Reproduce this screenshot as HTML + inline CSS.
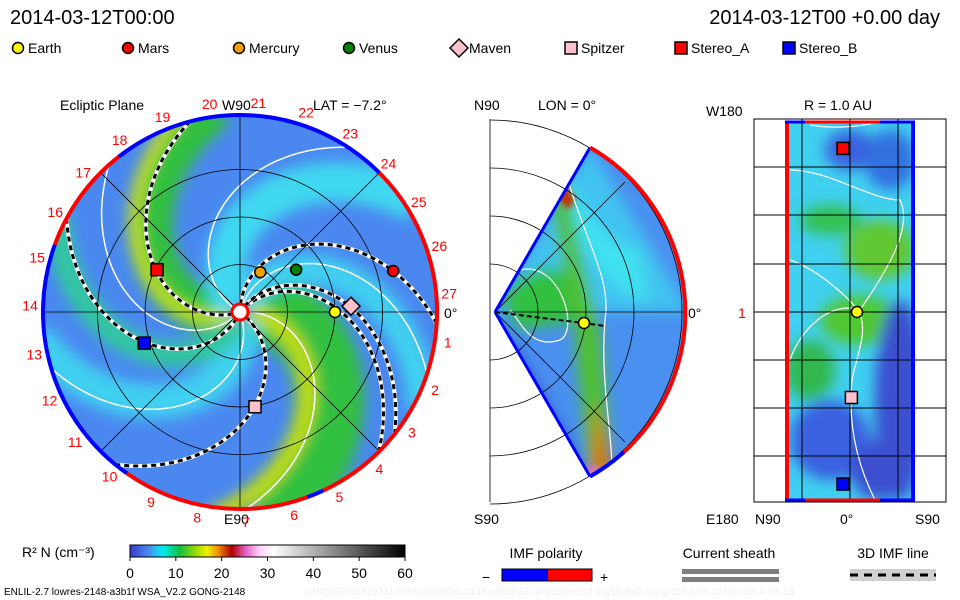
<!DOCTYPE html>
<html><head><meta charset="utf-8">
<style>
body{margin:0;background:#fff;}
svg{display:block;font-family:"Liberation Sans",sans-serif;}
</style></head>
<body>
<svg id="s" width="960" height="600" viewBox="0 0 960 600" xmlns="http://www.w3.org/2000/svg">
<defs>
<filter id="blur6"><feGaussianBlur stdDeviation="7"/></filter>
<filter id="blur3"><feGaussianBlur stdDeviation="3"/></filter>
<clipPath id="eclClip"><circle cx="240" cy="312" r="197"/></clipPath>
<clipPath id="wedgeClip"><path d="M495,312 L590,147.5 A190,190 0 0 1 590,476.5 Z"/></clipPath>
<clipPath id="rectClip"><rect x="785" y="121" width="130" height="380"/></clipPath>
<linearGradient id="cbar" x1="0" x2="1" y1="0" y2="0">
<stop offset="0" stop-color="#3a3ad0"/><stop offset="0.07" stop-color="#4a8cf0"/><stop offset="0.12" stop-color="#00f0f0"/>
<stop offset="0.18" stop-color="#10c040"/><stop offset="0.25" stop-color="#b0e000"/><stop offset="0.28" stop-color="#f0f000"/>
<stop offset="0.32" stop-color="#f09000"/><stop offset="0.37" stop-color="#b00000"/><stop offset="0.42" stop-color="#e060c0"/>
<stop offset="0.47" stop-color="#ffd0ff"/><stop offset="0.52" stop-color="#ffffff"/><stop offset="1" stop-color="#000"/>
</linearGradient>
</defs>

<text x="10" y="24" font-size="20">2014-03-12T00:00</text>
<text x="940" y="24" font-size="20" text-anchor="end">2014-03-12T00 +0.00 day</text>

<g id="legend" font-size="14"></g>

<g>
<text x="60" y="110" font-size="14">Ecliptic Plane</text>
<text x="222" y="110" font-size="14">W90</text>
<text x="313" y="110" font-size="14">LAT = −7.2°</text>
<text x="224" y="524" font-size="14">E90</text>
<text x="444" y="318" font-size="14">0°</text>
<g clip-path="url(#eclClip)">
<circle cx="240" cy="312" r="197" fill="#4a88f0"/>
<g id="bands" filter="url(#blur6)"></g>
<g id="spirals"></g>
</g>
<g id="eclGrid" stroke="#000" stroke-width="0.8" fill="none"></g>
<g id="eclRim"></g>
<g id="eclNums" fill="#f00" font-size="14"></g>
<circle cx="240" cy="312" r="8" fill="#fff" stroke="#f00" stroke-width="3"/>
<g id="eclBodies"></g>
</g>

<g>
<text x="474" y="110" font-size="14">N90</text>
<text x="538" y="110" font-size="14">LON = 0°</text>
<text x="474" y="524" font-size="14">S90</text>
<text x="688" y="318" font-size="14">0°</text>
<g clip-path="url(#wedgeClip)">
<rect x="490" y="120" width="200" height="390" fill="#4a90f0"/>
<g filter="url(#blur6)">
<path d="M495,312 L590,147 L690,312 Z" fill="#40d0f0" opacity="0.8"/>
<path d="M560,160 C580,200 600,240 640,250 L650,300 C600,300 575,230 545,170 Z" fill="#40e0f0"/>
<path d="M500,300 C540,250 580,260 585,320 L520,330 Z" fill="#30c040"/>
<path d="M560,160 C570,190 580,260 600,330 C605,380 610,440 610,480 L590,480 C585,420 575,360 575,320 C560,250 550,200 545,170 Z" fill="#50c030"/>
<path d="M500,320 L590,480 L540,480 Z" fill="#3040c0"/>
<path d="M595,400 L612,470 L592,478 Z" fill="#e07000"/>
</g>
<path d="M562,180 L575,200 L568,210 L552,190 Z" fill="#c03000" filter="url(#blur3)"/>
<path d="M590,465 L605,470 L600,480 L585,478 Z" fill="#e070c0" filter="url(#blur3)"/>
<path d="M568,180 C585,240 612,280 605,320 C600,380 612,430 612,470" stroke="#fff" stroke-width="1.2" fill="none"/>
<path d="M520,270 C560,260 580,330 560,340 C530,350 520,320 510,310" stroke="#fff" stroke-width="1.2" fill="none"/>
</g>
<g stroke="#000" stroke-width="0.8" fill="none">
<line x1="490" y1="119" x2="490" y2="502"/>
<path d="M490,264 A48,48 0 0 1 490,360"/>
<path d="M490,216 A96,96 0 0 1 490,408"/>
<path d="M490,168 A144,144 0 0 1 490,456"/>
<path d="M490,120 A192,192 0 0 1 490,504"/>
<line x1="495" y1="312" x2="685" y2="312"/>
<line x1="495" y1="312" x2="625" y2="182"/>
<line x1="495" y1="312" x2="625" y2="442"/>
</g>
<path d="M495,312 L590,147.5" stroke="#00f" stroke-width="3"/>
<path d="M495,312 L590,476.5" stroke="#00f" stroke-width="3"/>
<path d="M590,147.5 A190,190 0 0 1 624,452" stroke="#f00" stroke-width="4" fill="none"/>
<path d="M624,452 A190,190 0 0 1 590,476.5" stroke="#00f" stroke-width="4" fill="none"/>
<path d="M495,312 L583,323 L605,326" stroke="#000" stroke-width="2" stroke-dasharray="5,3" fill="none"/>
<circle cx="584" cy="323" r="5.5" fill="#ff0" stroke="#000" stroke-width="1.5"/>
</g>

<g>
<text x="804" y="110" font-size="14">R = 1.0 AU</text>
<text x="706" y="116" font-size="14">W180</text>
<text x="706" y="524" font-size="14">E180</text>
<text x="755" y="524" font-size="14">N90</text>
<text x="840" y="524" font-size="14">0°</text>
<text x="915" y="524" font-size="14">S90</text>
<text x="738" y="318" font-size="14" fill="#f00">1</text>
<g clip-path="url(#rectClip)">
<rect x="785" y="121" width="130" height="380" fill="#40d0f0"/>
<g filter="url(#blur6)">
<ellipse cx="850" cy="150" rx="25" ry="20" fill="#3a60e0"/>
<ellipse cx="880" cy="250" rx="35" ry="30" fill="#60c830"/>
<ellipse cx="830" cy="220" rx="30" ry="15" fill="#30c050"/>
<ellipse cx="860" cy="320" rx="40" ry="25" fill="#50c830"/>
<ellipse cx="810" cy="370" rx="25" ry="30" fill="#30b850"/>
<ellipse cx="900" cy="400" rx="25" ry="100" fill="#3a50d0"/>
<ellipse cx="830" cy="440" rx="40" ry="40" fill="#3a60e0"/>
<ellipse cx="880" cy="470" rx="30" ry="30" fill="#3a50d0"/>
<ellipse cx="890" cy="160" rx="25" ry="30" fill="#3070e0"/>
</g>
<path d="M790,170 C830,170 870,200 900,200 C915,230 880,280 860,310 C830,300 800,330 790,360" stroke="#fff" stroke-width="1.2" fill="none"/>
<path d="M790,260 C820,270 850,300 858,310 C870,330 855,360 852,380 C848,420 855,460 875,500" stroke="#fff" stroke-width="1.2" fill="none"/>
<path d="M810,125 C840,130 870,125 880,121" stroke="#fff" stroke-width="1.2" fill="none"/>
</g>
<g stroke="#000" stroke-width="1" fill="none" id="rgrid">
<rect x="754" y="119" width="192" height="383"/>
</g>
<line x1="787" y1="121" x2="787" y2="500" stroke="#f00" stroke-width="4"/>
<line x1="913" y1="121" x2="913" y2="500" stroke="#00f" stroke-width="4"/>
<line x1="785" y1="122" x2="915" y2="122" stroke="#00f" stroke-width="3"/>
<line x1="805" y1="122" x2="880" y2="122" stroke="#f00" stroke-width="3"/>
<line x1="785" y1="500" x2="915" y2="500" stroke="#00f" stroke-width="3"/>
<line x1="805" y1="500" x2="880" y2="500" stroke="#f00" stroke-width="3"/>
<g id="rBodies"></g>
</g>

<g>
<text x="22" y="557" font-size="14">R² N (cm⁻³)</text>
<rect x="130" y="545" width="275" height="12" fill="url(#cbar)" stroke="#000" stroke-width="1"/>
<g id="cbTicks" font-size="14" text-anchor="middle"></g>
</g>
<g>
<text x="546" y="558" font-size="14" text-anchor="middle">IMF polarity</text>
<text x="482" y="582" font-size="14">−</text>
<rect x="502" y="569" width="46" height="12" fill="#00f"/>
<rect x="548" y="569" width="44" height="12" fill="#f00"/>
<rect x="502" y="569" width="90" height="12" fill="none" stroke="#000"/>
<text x="600" y="582" font-size="14">+</text>
</g>
<g>
<text x="729" y="558" font-size="14" text-anchor="middle">Current sheath</text>
<rect x="682" y="569" width="97" height="5" fill="#808080"/>
<rect x="682" y="577" width="97" height="5" fill="#808080"/>
</g>
<g>
<text x="893" y="558" font-size="14" text-anchor="middle">3D IMF line</text>
<rect x="850" y="569" width="86" height="12" fill="#d0d0d0"/>
<line x1="850" y1="575" x2="936" y2="575" stroke="#000" stroke-width="3" stroke-dasharray="8,6"/>
</g>
<text x="4" y="595" font-size="10">ENLIL-2.7 lowres-2148-a3b1f WSA_V2.2 GONG-2148</text>
<text x="305" y="595" font-size="10" fill="#eee">UNIQUE0313102317/256x30x90x1.2148-a3b1f.32-mcp1umn1cd-1.g53q5d2.gong-2014-03-12T00   2014-03-13</text>
</svg>
<script>
const NS="http://www.w3.org/2000/svg";
const svg=document.getElementById('s');
const bodyNames=["Earth","Mars","Mercury","Venus","Maven","Spitzer","Stereo_A","Stereo_B"];
const bodyColors=["#ffff00","#ff0000","#f0a000","#008000","#ffc0cb","#ffc0cb","#ff0000","#0000ff"];
const bodyShapes=["circle","circle","circle","circle","diamond","square","square","square"];
const bodyRadiusAU=[1.0,1.67,0.47,0.74,1.17,1.01,0.98,1.06];
const bodyLonDeg=[0,15,63,37,3,-81,153,198];
const sphereBodies=["Stereo_A","Earth","Spitzer","Stereo_B"];
const sphereLat=[-5,5,1,-5];
const sphereLon=[155,0,-81,-163];
const legendX=[12,122,233,343,453,565,675,783];
const cbTicks=[0,10,20,30,40,50,60];
const armPhase=[90,48,55,198,245,-36,75,150,225,5,290];
const armStyle=["dash","dash","dash","dash","dash","dash","white","white","white","white","white"];
const bandPhase=[15,195,130,285,70,250];
const bandColor=["#30c040","#30c040","#40d8f0","#40d0f0","#40d0f0","#30c8a0"];
const bandWidth=[70,45,40,35,30,25];

function el(tag,attrs,parent){const e=document.createElementNS(NS,tag);for(const k in attrs)e.setAttribute(k,attrs[k]);(parent||svg).appendChild(e);return e;}
const cx=240,cy=312,scale=95,R=197;
function px(rAU,deg){const a=deg*Math.PI/180;return [cx+rAU*scale*Math.cos(a),cy-rAU*scale*Math.sin(a)];}
const wind=-45;
function spiralPath(phase){let d="";for(let r=0.08;r<=2.2;r+=0.03){const p=px(r,phase+wind*r);d+=(d?"L":"M")+p[0].toFixed(1)+","+p[1].toFixed(1);}return d;}

function marker(shape,x,y,color,parent,name){
  let e;
  if(shape==="circle")e=el('circle',{cx:x,cy:y,r:5.5,fill:color,stroke:"#000","stroke-width":1.5},parent);
  else if(shape==="square")e=el('rect',{x:x-6,y:y-6,width:12,height:12,fill:color,stroke:"#000","stroke-width":1.5},parent);
  else e=el('path',{d:`M${x},${y-9}L${x+9},${y}L${x},${y+9}L${x-9},${y}Z`,fill:color,stroke:"#000","stroke-width":1.5},parent);
  
  
  return e;
}
const lg=document.getElementById('legend');
bodyNames.forEach((n,i)=>{
  const x=legendX[i];
  marker(bodyShapes[i],x+6,48,bodyColors[i],lg,'legend-'+n.toLowerCase().replace('_','-'));
  const t=el('text',{x:x+16,y:53},lg);t.textContent=n;
  
  
});
const bg=document.getElementById('bands');
bandPhase.forEach((ph,i)=>{
  const p=el('path',{d:spiralPath(ph),stroke:bandColor[i],"stroke-width":bandWidth[i],fill:"none"},bg);
  
  
});
el('path',{d:spiralPath(0),stroke:"#c8e000","stroke-width":16,fill:"none"},bg);
el('path',{d:spiralPath(205),stroke:"#d8e800","stroke-width":10,fill:"none"},bg);
const sp=document.getElementById('spirals');
armPhase.forEach((ph,i)=>{
  if(armStyle[i]==="dash"){
    el('path',{d:spiralPath(ph),stroke:"#fff","stroke-width":4,fill:"none"},sp);
    const p=el('path',{d:spiralPath(ph),stroke:"#000","stroke-width":3,"stroke-dasharray":"5,4",fill:"none"},sp);
    
    
  }else{
    const p=el('path',{d:spiralPath(ph),stroke:"#fff","stroke-width":1.5,fill:"none"},sp);
    
    
  }
});
const g=document.getElementById('eclGrid');
[0.5,1,1.5].forEach(r=>el('circle',{cx,cy,r:r*scale},g));
[0,45,90,135].forEach(a=>{const p1=px(2.07,a),p2=px(2.07,a+180);el('line',{x1:p1[0],y1:p1[1],x2:p2[0],y2:p2[1]},g);});
const rim=document.getElementById('eclRim');
const rimData=[[-65,45,"#f00"],[45,128,"#00f"],[128,160,"#f00"],[160,235,"#00f"],[235,290,"#f00"],[290,295,"#00f"]];
rimData.forEach(s=>{
  const a1=s[0]*Math.PI/180,a2=s[1]*Math.PI/180;
  const x1=cx+R*Math.cos(a1),y1=cy-R*Math.sin(a1),x2=cx+R*Math.cos(a2),y2=cy-R*Math.sin(a2);
  const large=(s[1]-s[0])>180?1:0;
  el('path',{d:`M${x1},${y1}A${R},${R} 0 ${large} 0 ${x2},${y2}`,stroke:s[2],"stroke-width":4,fill:"none"},rim);
});
const nums=document.getElementById('eclNums');
for(let k=1;k<=27;k++){
  const a=(5+(27-k)*13.33)*Math.PI/180;
  const x=cx+210*Math.cos(a),y=cy-210*Math.sin(a)+5;
  const t=el('text',{x,y,"text-anchor":"middle"},nums);t.textContent=k;
}
const eb=document.getElementById('eclBodies');
bodyNames.forEach((n,i)=>{const p=px(bodyRadiusAU[i],bodyLonDeg[i]);marker(bodyShapes[i],p[0],p[1],bodyColors[i],eb,'ecliptic-'+n.toLowerCase().replace('_','-'));});
const rg=document.getElementById('rgrid');
[802,850,898].forEach(x=>el('line',{x1:x,y1:119,x2:x,y2:502},rg));
[167,215,264,312,360,408,456].forEach(y=>el('line',{x1:754,y1:y,x2:946,y2:y},rg));
const rb=document.getElementById('rBodies');
sphereBodies.forEach((n,i)=>{
  const idx=bodyNames.indexOf(n);
  const x=850+sphereLat[i]*1.4;
  const y=312-sphereLon[i]*(190/180);
  marker(bodyShapes[idx],x,y,bodyColors[idx],rb,'sphere-'+n.toLowerCase().replace('_','-'));
});
const cbt=document.getElementById('cbTicks');
cbTicks.forEach(v=>{const x=130+v/60*275;el('line',{x1:x,y1:557,x2:x,y2:561,stroke:"#000"},cbt);const t=el('text',{x,y:578},cbt);t.textContent=v;});
</script>
</body></html>
